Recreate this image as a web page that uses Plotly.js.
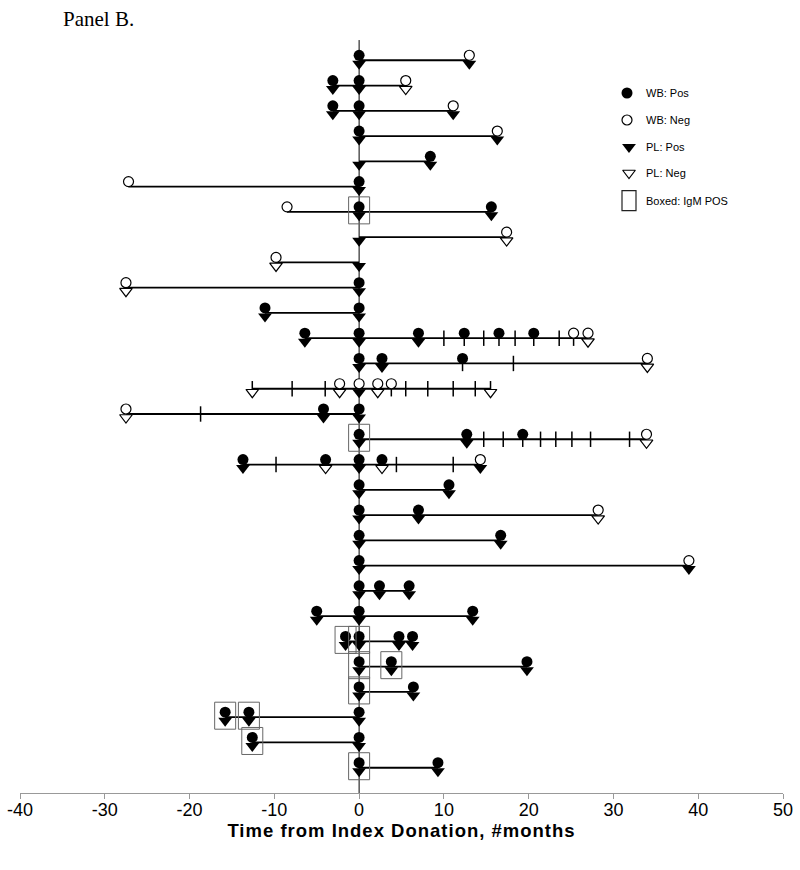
<!DOCTYPE html>
<html>
<head>
<meta charset="utf-8">
<script src="https://cdn.plot.ly/plotly-3.0.1.min.js"></script>
<style>html,body{margin:0;padding:0;background:#fff;}#chart{width:800px;height:870px;}
.g-xtitle text{letter-spacing:1px;}</style>
</head>
<body>
<div id="chart"></div>
<script>
// ---- data (months from index donation), one entry per subject row, top to bottom ----
const rowCount = 29;
const lineStart = [0,-3.1,-3.1,0,0,-27.2,-8.5,0,-9.8,-27.5,-11.1,-6.4,0,-12.6,-27.5,0,-13.7,0,0,0,0,0,-5.0,-1.6,0,0,-15.8,-12.6,0];
const lineEnd   = [13.0,5.5,11.1,16.3,8.4,0,15.6,17.4,0,0,0,27.0,34.0,15.5,0,33.9,14.3,10.6,28.2,16.7,38.9,5.9,13.4,6.3,19.8,6.4,0,0,9.3];

const wbPos = [[0],[-3.1,0],[-3.1,0],[0],[8.4],[0],[0,15.6],[],[],[0],[-11.1,0],
  [-6.4,0,7.0,12.4,16.5,20.6],[0,2.7,12.2],[],[-4.2,0],[0,12.7,19.3],[-13.7,-3.95,0,2.7],
  [0,10.6],[0,7.0],[0,16.7],[0],[0,2.4,5.9],[-5.0,0,13.4],[-1.6,0,4.7,6.3],[0,3.8,19.8],
  [0,6.4],[-15.8,-13.0,0],[-12.6,0],[0,9.3]];
const wbNeg = [[13.0],[5.5],[11.1],[16.3],[],[-27.2],[-8.5],[17.4],[-9.8],[-27.5],[],
  [25.3,27.0],[34.0],[-2.3,0,2.2,3.8],[-27.5],[33.9],[14.3],[],[28.2],[],[38.9],
  [],[],[],[],[],[],[],[]];
const plPos = [[0,13.0],[-3.1,0],[-3.1,0,11.1],[0,16.3],[0,8.4],[0],[0,15.6],[0],[0],[0],[-11.1,0],
  [-6.4,0,7.0],[0,2.7],[0],[-4.2,0],[0,12.7],[-13.7,0,14.3],[0,10.6],[0,7.0],[0,16.7],[0,38.9],
  [0,2.4,5.9],[-5.0,0,13.4],[-1.6,0,4.7,6.3],[0,3.8,19.8],[0,6.4],[-15.8,-13.0,0],[-12.6,0],[0,9.3]];
const plNeg = [[],[5.5],[],[],[],[],[],[17.4],[-9.8],[-27.5],[],[27.0],[34.0],[-12.6,-2.3,2.2,15.5],
  [-27.5],[33.9],[-3.95,2.7],[],[28.2],[],[],[],[],[],[],[],[],[],[]];
const visits = [[],[],[],[],[],[],[],[],[],[],[],
  [10.0,12.4,14.7,16.5,18.4,20.6,23.6,25.3],[12.2,18.2],
  [-12.6,-7.9,-4.0,3.8,5.5,8.1,11.1,13.7,15.5],[-18.7],
  [14.7,17.0,19.3,21.4,23.2,25.1,27.3,31.9],[-9.8,4.4,11.1],
  [],[],[],[],[],[],[],[],[],[],[],[]];
const igmRow = [7,16,24,24,25,25,26,27,27,28,29];
const igmX   = [0,0,-1.6,0,0,3.8,0,-15.8,-13.0,-12.6,0];

const xTicks = [-40,-30,-20,-10,0,10,20,30,40,50];
const legendLabels = ["WB: Pos","WB: Neg","PL: Pos","PL: Neg","Boxed: IgM POS"];

// ---- layout geometry ----
const W = 800, H = 870;
const M = {l:20, r:17, t:35, b:77};
const plotH = H - M.t - M.b;
const yMax = 30;
const pxPerRow = plotH / yMax;
const circOff = 5 / pxPerRow;   // circles sit above line
const triOff = 3.5 / pxPerRow;  // triangles sit below line

function flat(arr){ const xs=[], ys=[]; arr.forEach((lst,i)=>lst.forEach(v=>{xs.push(v); ys.push(i+1);})); return {x:xs,y:ys}; }

const lx=[], ly=[];
for(let i=0;i<rowCount;i++){ lx.push(lineStart[i], lineEnd[i], null); ly.push(i+1, i+1, null); }

const traces = [];
traces.push({x:lx, y:ly, mode:'lines', line:{color:'#000', width:1.8}, hoverinfo:'skip', showlegend:false, xaxis:'x', yaxis:'y'});
traces.push({x:[0,0], y:[0.2, yMax], mode:'lines', line:{color:'#000', width:1}, hoverinfo:'skip', showlegend:false, xaxis:'x', yaxis:'y'});
const vt = flat(visits);
traces.push({x:vt.x, y:vt.y, mode:'markers', marker:{symbol:'line-ns', size:11, color:'#000', line:{color:'#000', width:1.5}}, showlegend:false, xaxis:'x', yaxis:'y'});
const wp = flat(wbPos), wn = flat(wbNeg), pp = flat(plPos), pn = flat(plNeg);
traces.push({x:wp.x, y:wp.y, mode:'markers', marker:{symbol:'circle', size:11, color:'#000', line:{width:0}}, showlegend:false, xaxis:'x', yaxis:'y2'});
traces.push({x:wn.x, y:wn.y, mode:'markers', marker:{symbol:'circle', size:10, color:'#fff', line:{color:'#000', width:1.2}}, showlegend:false, xaxis:'x', yaxis:'y2'});
traces.push({x:pp.x, y:pp.y, mode:'markers', marker:{symbol:'triangle-down', size:12, color:'#000', line:{width:0}}, showlegend:false, xaxis:'x', yaxis:'y3'});
traces.push({x:pn.x, y:pn.y, mode:'markers', marker:{symbol:'triangle-down', size:11, color:'#fff', line:{color:'#000', width:1.2}}, showlegend:false, xaxis:'x', yaxis:'y3'});

// legend (pixel-coordinate overlay axes)
const legX = 627, legY = [93,120,147,173,200.7], legTextX = 643.5;
traces.push({x:[legX], y:[legY[0]], mode:'markers', marker:{symbol:'circle', size:11, color:'#000'}, showlegend:false, xaxis:'x2', yaxis:'y4'});
traces.push({x:[legX], y:[legY[1]], mode:'markers', marker:{symbol:'circle', size:10, color:'#fff', line:{color:'#000', width:1.2}}, showlegend:false, xaxis:'x2', yaxis:'y4'});
traces.push({x:[legX+2], y:[legY[2]], mode:'markers', marker:{symbol:'triangle-down', size:12, color:'#000'}, showlegend:false, xaxis:'x2', yaxis:'y4'});
traces.push({x:[legX+2], y:[legY[3]], mode:'markers', marker:{symbol:'triangle-down', size:11, color:'#fff', line:{color:'#000', width:1.2}}, showlegend:false, xaxis:'x2', yaxis:'y4'});

const shapes = igmX.map((x,i)=>({type:'rect', xref:'x', yref:'y', xsizemode:'pixel', ysizemode:'pixel',
  xanchor:x, yanchor:igmRow[i], x0:-10.5, x1:10.5, y0:-12, y1:15, line:{color:'#666', width:1}, fillcolor:'rgba(0,0,0,0)'}));
shapes.push({type:'rect', xref:'x2', yref:'y4', x0:622, x1:636, y0:190.7, y1:210.7, line:{color:'#222', width:1.2}});

const px2paperX = p => (p - M.l) / (W - M.l - M.r);
const px2paperY = p => (H - M.b - p) / plotH;

const annotations = legendLabels.map((t,i)=>({xref:'x2', yref:'y4', x:legTextX, y:legY[i], text:t, showarrow:false,
  xanchor:'left', yanchor:'middle', font:{family:'Liberation Sans, Arial, sans-serif', size:11, color:'#000'}}));
annotations.push({xref:'paper', yref:'paper', x:px2paperX(61), y:px2paperY(19), text:'Panel B.', showarrow:false,
  xanchor:'left', yanchor:'middle', font:{family:'Liberation Serif, Times New Roman, serif', size:21, color:'#000'}});

const layout = {
  width:W, height:H, margin:M, paper_bgcolor:'#fff', plot_bgcolor:'#fff', showlegend:false,
  font:{family:'Liberation Sans, Arial, sans-serif', color:'#000'},
  xaxis:{range:[-40,50], tickvals:xTicks, ticktext:xTicks.map(String), ticks:'outside', ticklen:5, tickcolor:'#999', tickwidth:1,
    showline:true, linecolor:'#999', linewidth:1, showgrid:false, zeroline:false, tickfont:{size:18, color:'#000'},
    ticklabelstandoff:-5,
    title:{text:'<b>Time from Index Donation, #months</b>', font:{size:18.5, color:'#000'}, standoff:3}},
  yaxis:{range:[yMax,0], visible:false, showgrid:false, zeroline:false},
  yaxis2:{range:[yMax+circOff, circOff], overlaying:'y', visible:false, showgrid:false, zeroline:false},
  yaxis3:{range:[yMax-triOff, -triOff], overlaying:'y', visible:false, showgrid:false, zeroline:false},
  xaxis2:{range:[M.l, W-M.r], overlaying:'x', visible:false, showgrid:false, zeroline:false},
  yaxis4:{range:[H-M.b, M.t], overlaying:'y', visible:false, showgrid:false, zeroline:false},
  shapes:shapes, annotations:annotations
};
Plotly.newPlot('chart', traces, layout, {displayModeBar:false, staticPlot:true});
</script>
</body>
</html>
